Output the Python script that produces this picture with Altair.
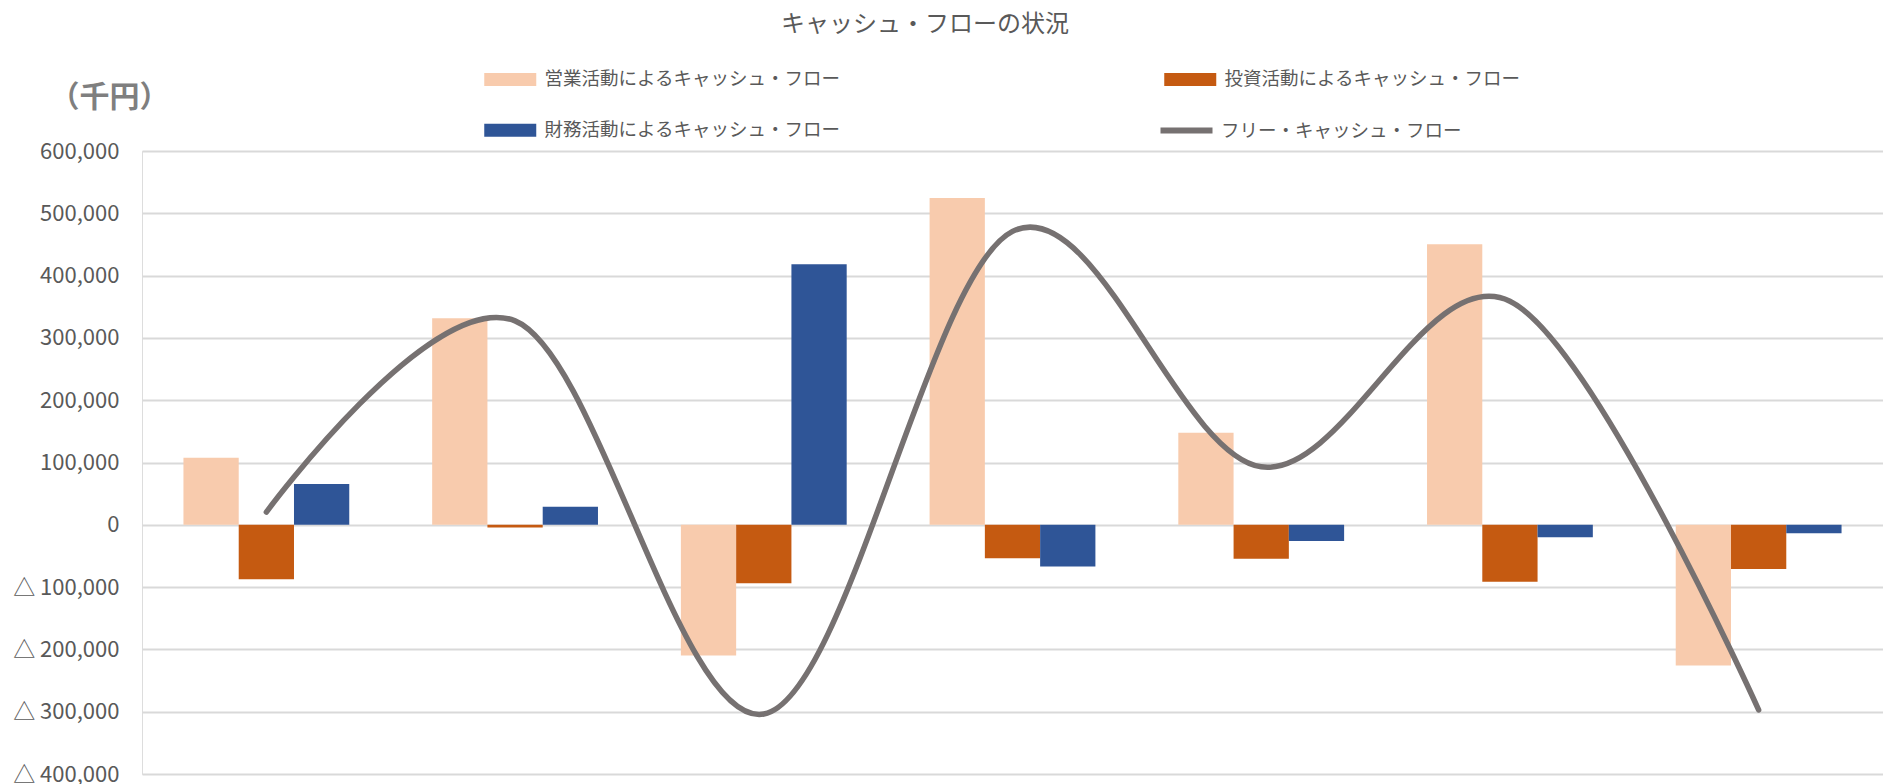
import altair as alt
import pandas as pd

# ---- data (thousand yen) ----
categories = ["第1期", "第2期", "第3期", "第4期", "第5期", "第6期", "第7期"]
bar_series = [
    "営業活動によるキャッシュ・フロー",
    "投資活動によるキャッシュ・フロー",
    "財務活動によるキャッシュ・フロー",
]
line_series = "フリー・キャッシュ・フロー"
operating = [107500, 331600, -209700, 524600, 147600, 450300, -226000]
investing = [-87200, -4300, -94000, -53600, -54500, -91400, -71100]
financing = [65300, 28900, 418200, -67000, -26200, -19800, -13400]
free_cf = [20300, 327300, -303700, 471000, 93100, 358900, -297100]
bar_colors = ["#F8CBAD", "#C55A11", "#2F5597"]
line_color = "#767171"
y_ticks = [-400000, -300000, -200000, -100000, 0, 100000, 200000, 300000, 400000, 500000, 600000]

rows = []
for name, vals in zip(bar_series, [operating, investing, financing]):
    for c, v in zip(categories, vals):
        rows.append({"cat": c, "series": name, "value": v})
bars_df = pd.DataFrame(rows)
line_df = pd.DataFrame({"cat": categories, "series": [line_series] * len(categories), "value": free_cf})

FONT = "Noto Sans CJK JP"
W, H = 1741, 623

x_scale = alt.Scale(domain=categories, paddingInner=0, paddingOuter=0)
y_scale = alt.Scale(domain=[-400000, 600000], nice=False)

y_axis = alt.Axis(
    values=y_ticks,
    labelExpr="datum.value < 0 ? '△ ' + format(-datum.value, ',') : format(datum.value, ',')",
    labelFont=FONT, labelFontSize=22, labelColor="#595959", labelPadding=23,
    domain=False, ticks=False,
    grid=True, gridColor="#D9D9D9", gridWidth=2,
    title="（千円）", titleAngle=0, titleAlign="left", titleBaseline="middle",
    titleX=-93, titleY=-54, titleFont=FONT, titleFontSize=30, titleFontWeight="bold",
    titleColor="#7F7F7F",
)

fill_legend = alt.Legend(
    title=None, orient="none", legendX=359, legendY=-81, columns=2, direction="horizontal",
    columnPadding=323, rowPadding=32, padding=0,
    symbolType="M-4,-1L4,-1L4,1L-4,1Z", symbolSize=169, symbolStrokeWidth=0,
    labelFont=FONT, labelFontSize=18.5, labelColor="#595959", labelOffset=25, labelLimit=0,
)
stroke_legend = alt.Legend(
    title=None, orient="none", legendX=1035, legendY=-30, padding=0,
    symbolType="M-4,0L4,0", symbolSize=169, symbolStrokeWidth=6,
    labelFont=FONT, labelFontSize=18.5, labelColor="#595959", labelOffset=25, labelLimit=0,
)

bars = alt.Chart(bars_df).mark_bar(strokeWidth=0).encode(
    x=alt.X("cat:N", scale=x_scale, sort=categories, axis=None),
    xOffset=alt.XOffset("series:N", sort=bar_series,
                        scale=alt.Scale(domain=bar_series, paddingInner=0, paddingOuter=0.75)),
    y=alt.Y("value:Q", scale=y_scale, axis=y_axis),
    fill=alt.Fill("series:N", sort=bar_series,
                  scale=alt.Scale(domain=bar_series, range=bar_colors), legend=fill_legend),
)

line = alt.Chart(line_df).mark_line(interpolate="cardinal", strokeWidth=5.5, strokeCap="round").encode(
    x=alt.X("cat:N", scale=x_scale, sort=categories, axis=None),
    y=alt.Y("value:Q", scale=y_scale),
    stroke=alt.Stroke("series:N", scale=alt.Scale(domain=[line_series], range=[line_color]),
                      legend=stroke_legend),
)

chart = alt.layer(bars, line).resolve_scale(fill="independent", stroke="independent").properties(
    width=W, height=H,
    title=alt.TitleParams(
        "キャッシュ・フローの状況", anchor="start", frame="group", dx=639, dy=-33, offset=0,
        font=FONT, fontSize=24, fontWeight="normal", color="#595959",
    ),
    autosize=alt.AutoSizeParams(type="none"),
    padding={"left": 142, "top": 151, "right": 0, "bottom": 10},
).configure_view(stroke=None).configure(background="white")

chart.save("out.html", embed_options={"renderer": "svg", "actions": False})
